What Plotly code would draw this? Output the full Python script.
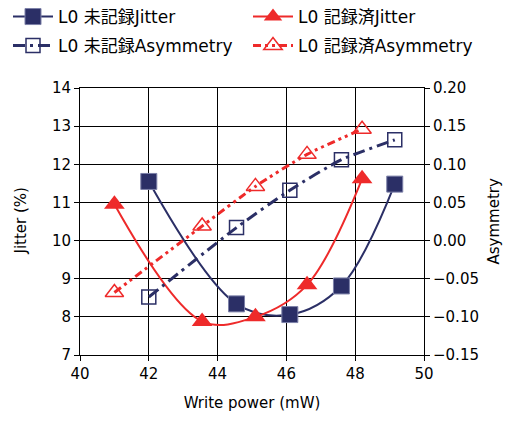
import plotly.graph_objects as go

NAVY = "#2B2F66"
RED = "#EE2A2A"

# Data
x_unrec = [42.0, 44.55, 46.1, 47.6, 49.15]
jit_unrec = [11.55, 8.34, 8.06, 8.81, 11.48]
asym_unrec = [-0.074, 0.017, 0.066, 0.106, 0.132]

x_rec = [41.0, 43.55, 45.1, 46.6, 48.2]
jit_rec = [10.95, 7.88, 8.0, 8.84, 11.62]
asym_rec = [-0.068, 0.019, 0.071, 0.113, 0.146]

names = ["L0 未記録Jitter", "L0 記録済Jitter", "L0 未記録Asymmetry", "L0 記録済Asymmetry"]

x_ticks = [40, 42, 44, 46, 48, 50]
y_ticks = [7, 8, 9, 10, 11, 12, 13, 14]
y2_ticks = [-0.15, -0.10, -0.05, 0.00, 0.05, 0.10, 0.15, 0.20]

FONT = "DejaVu Sans, Noto Sans CJK JP"
W, H = 503, 413  # page body has an 8px margin
ML, MR, MT, MB = 72, 87, 80, 66
PW = W - ML - MR

fig = go.Figure()
fig.add_trace(go.Scatter(
    x=x_unrec, y=jit_unrec, name=names[0], mode="lines+markers", legend="legend",
    line=dict(color=NAVY, width=2, shape="spline", smoothing=1.0),
    marker=dict(symbol="square", size=16, color=NAVY, line=dict(color="#7C80A8", width=1)),
))
fig.add_trace(go.Scatter(
    x=x_rec, y=jit_rec, name=names[1], mode="lines+markers", legend="legend2",
    line=dict(color=RED, width=2, shape="spline", smoothing=1.0),
    marker=dict(symbol="triangle-up", size=18, color=RED, line=dict(width=0)),
))
fig.add_trace(go.Scatter(
    x=x_unrec, y=asym_unrec, name=names[2], mode="lines+markers", yaxis="y2", legend="legend3",
    line=dict(color=NAVY, width=3, dash="12px,5px,3px,5px", shape="spline", smoothing=0.6),
    marker=dict(symbol="square-open", size=14, color=NAVY, line=dict(width=1.5)),
))
fig.add_trace(go.Scatter(
    x=x_rec, y=asym_rec, name=names[3], mode="lines+markers", yaxis="y2", legend="legend4",
    line=dict(color=RED, width=3, dash="8px,4px,3px,4px,3px,4px", shape="spline", smoothing=0.6),
    marker=dict(symbol="triangle-up-open", size=16, color=RED, line=dict(width=1.5)),
))

axis_common = dict(
    showline=True, linecolor="black", linewidth=1,
    gridcolor="black", gridwidth=1, zeroline=False,
    ticks="outside", ticklen=5, tickcolor="black",
    tickfont=dict(family=FONT, size=15, color="black"),
)


def leg(x, y):
    return dict(
        orientation="v", xref="container", yref="container",
        x=x, y=y, xanchor="left", yanchor="middle",
        font=dict(family=FONT, size=17, color="black"),
        bgcolor="rgba(0,0,0,0)", itemwidth=40,
    )


fig.update_layout(
    width=W, height=H,
    margin=dict(l=ML, r=MR, t=MT, b=MB, autoexpand=False),
    paper_bgcolor="white", plot_bgcolor="white",
    font=dict(family=FONT, size=15, color="black"),
    showlegend=True,
    legend=leg(0.0, 1 - 9 / H),
    legend2=leg(240 / W, 1 - 9 / H),
    legend3=leg(0.0, 1 - 38 / H),
    legend4=leg(240 / W, 1 - 38 / H),
    xaxis=dict(
        range=[40, 50], tickvals=x_ticks, ticktext=[str(v) for v in x_ticks],
        title=dict(text="Write power (mW)", font=dict(family=FONT, size=15)),
        mirror=True, **axis_common,
    ),
    yaxis=dict(
        range=[7, 14], tickvals=y_ticks, ticktext=[str(v) for v in y_ticks],
        **axis_common,
    ),
    yaxis2=dict(
        range=[-0.15, 0.20], tickvals=y2_ticks,
        ticktext=[("−" if v < 0 else "") + f"{abs(v):.2f}" for v in y2_ticks],
        overlaying="y", side="right", showgrid=False,
        showline=True, linecolor="black", linewidth=1, zeroline=False,
        ticks="outside", ticklen=5, tickcolor="black",
        tickfont=dict(family=FONT, size=15, color="black"),
    ),
    annotations=[
        dict(
            text="Jitter (%)", textangle=-90, showarrow=False,
            xref="paper", yref="paper", x=(12 - ML) / PW, y=0.5,
            xanchor="center", yanchor="middle",
            font=dict(family=FONT, size=15, color="black"),
        ),
        dict(
            text="Asymmetry", textangle=-90, showarrow=False,
            xref="paper", yref="paper", x=(485 - ML) / PW, y=0.5,
            xanchor="center", yanchor="middle",
            font=dict(family=FONT, size=15, color="black"),
        ),
    ],
)

fig.write_html("out.html")
